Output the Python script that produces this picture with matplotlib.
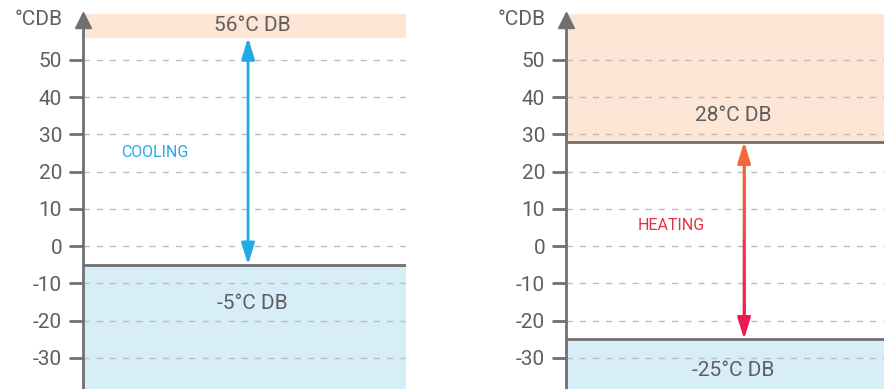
import matplotlib.pyplot as plt
import numpy as np
from matplotlib.collections import LineCollection
from matplotlib.colors import LinearSegmentedColormap

plt.rcParams['font.family'] = ['Roboto', 'DejaVu Sans']

# temperature scale and operating ranges
temp_ticks = [50, 40, 30, 20, 10, 0, -10, -20, -30]
modes = ['COOLING', 'HEATING']
upper_limit = [56, 28]
lower_limit = [-5, -25]
unit_label = '°CDB'

YMIN, YMAX = -38.4, 66.1
AXIS_TOP = 62.4

GREY = '#707070'
TEXT = '#5f5f5f'
ORANGE_BAND = '#fde6d6'
BLUE_BAND = '#d7eef9'
mode_colors = ['#22a9e6', '#e4303f']
arrow_x = [0.511, 0.56]
mode_x = [0.223, 0.33]
mode_dy = [-0.5, 4]
lower_dy = [-10.5, -8.5]
upper_edge = [False, True]

W, H = 884, 389
boxes = [(83, 406), (566, 884)]

fig = plt.figure(figsize=(W / 100, H / 100), dpi=100)

for i, (x0, x1) in enumerate(boxes):
    ax = fig.add_axes([x0 / W, 0, (x1 - x0) / W, 1])
    ax.set_xlim(0, 1)
    ax.set_ylim(YMIN, YMAX)
    for s in ['top', 'right', 'bottom']:
        ax.spines[s].set_visible(False)
    ax.spines['left'].set_color(GREY)
    ax.spines['left'].set_linewidth(2)
    ax.spines['left'].set_bounds(YMIN, AXIS_TOP - 2)
    ax.set_xticks([])
    ax.set_yticks(temp_ticks)
    ax.set_yticklabels([str(t) for t in temp_ticks])
    ax.tick_params(axis='y', length=10, width=2, color=GREY,
                   labelcolor=TEXT, labelsize=15, pad=5)
    ax.patch.set_alpha(0)

    # axis arrow head
    ax.plot([0], [AXIS_TOP - 1.8], marker='^', markersize=11, color=GREY,
            clip_on=False, zorder=6)
    ax.text(-0.062 if i == 0 else -0.064, AXIS_TOP - 1.5, unit_label,
            ha='right', va='center', fontsize=15, color=TEXT)

    up, lo = upper_limit[i], lower_limit[i]
    ax.axhspan(up, AXIS_TOP, color=ORANGE_BAND, lw=0, zorder=0)
    ax.axhspan(YMIN, lo, color=BLUE_BAND, lw=0, zorder=0)

    ax.hlines(temp_ticks, 0, 1, colors='#bdbdbd', linewidth=1,
              linestyles=(0, (4.5, 5)), zorder=1)

    ax.hlines(lo, 0, 1, colors=GREY, linewidth=2, zorder=3)
    if upper_edge[i]:
        ax.hlines(up, 0, 1, colors=GREY, linewidth=2, zorder=3)

    ax.text(0.525, min(up + 7, (up + AXIS_TOP) / 2), f'{up}°C DB',
            ha='center', va='center', fontsize=15, color=TEXT)
    ax.text(0.525, lo + lower_dy[i], f'{lo}°C DB',
            ha='center', va='center', fontsize=15, color=TEXT)

    ax.text(mode_x[i], (up + lo) / 2 + mode_dy[i], modes[i],
            ha='center', va='center', fontsize=11.5, color=mode_colors[i])

    xa = arrow_x[i]
    style = '-|>,head_length=1.3,head_width=0.4'
    if i == 0:
        c = mode_colors[0]
        mid = (up + lo) / 2
        for end in (up, lo):
            ax.annotate('', xy=(xa, end), xytext=(xa, mid),
                        arrowprops=dict(arrowstyle=style, color=c, lw=2,
                                        shrinkA=0, shrinkB=0, mutation_scale=10),
                        zorder=5)
    else:
        top_c, bot_c = '#f26a38', '#ec1a52'
        mid = (up + lo) / 2
        ax.annotate('', xy=(xa, up), xytext=(xa, mid),
                    arrowprops=dict(arrowstyle=style, color=top_c, lw=2,
                                    shrinkA=0, shrinkB=0, mutation_scale=10),
                    zorder=5)
        ax.annotate('', xy=(xa, lo), xytext=(xa, mid),
                    arrowprops=dict(arrowstyle=style, color=bot_c, lw=2,
                                    shrinkA=0, shrinkB=0, mutation_scale=10),
                    zorder=5)
        # gradient shaft from orange to red
        cmap = LinearSegmentedColormap.from_list('heat', [bot_c, top_c])
        ys = np.linspace(lo + 4, up - 4, 120)
        segs = [[(xa, ys[k]), (xa, ys[k + 1])] for k in range(len(ys) - 1)]
        lc = LineCollection(segs, cmap=cmap, linewidths=2.2, zorder=6)
        lc.set_array(np.linspace(0, 1, len(segs)))
        ax.add_collection(lc)

fig.savefig('out.png', dpi=100)
